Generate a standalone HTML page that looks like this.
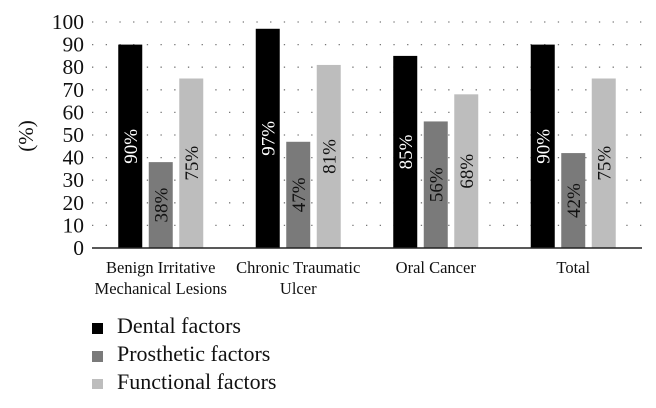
<!DOCTYPE html>
<html><head><meta charset="utf-8"><style>
body{margin:0;background:#fff;font-family:"Liberation Serif",serif;}
</style></head><body>
<svg width="656" height="403" xmlns="http://www.w3.org/2000/svg" font-family="Liberation Serif, serif">
<g id="grid"></g>
<g id="bars"></g>
<g id="yticks"></g>
<g id="xlabels"></g>
<line x1="92" y1="248" x2="642" y2="248" stroke="#222" stroke-width="1.5"/>
<text transform="translate(33,136) rotate(-90)" text-anchor="middle" font-size="21" fill="#111">(%)</text>
<g id="legend"></g>
<rect x="0" y="389" width="656" height="14" fill="#fff"/>
<script>
const categories=[["Benign Irritative","Mechanical Lesions"],["Chronic Traumatic","Ulcer"],["Oral Cancer"],["Total"]];
const seriesNames=["Dental factors","Prosthetic factors","Functional factors"];
const dental=[90,97,85,90];
const prosthetic=[38,47,56,42];
const functional=[75,81,68,75];
const yTicks=[0,10,20,30,40,50,60,70,80,90,100];
const series=[dental,prosthetic,functional];
const colors=["#000","#7a7a7a","#bdbdbd"];
const textColors=["#fff","#111","#111"];
const NS="http://www.w3.org/2000/svg";
const x0=92,x1=642,yBase=248,yTop=22;
const y=v=>yBase-(v/100)*(yBase-yTop);
const bandW=(x1-x0)/categories.length;
const barW=24,barStep=30.5;
function mk(tag,attrs,parent){const e=document.createElementNS(NS,tag);for(const k in attrs)e.setAttribute(k,attrs[k]);parent.appendChild(e);return e;}
const grid=document.getElementById('grid'),bars=document.getElementById('bars'),yt=document.getElementById('yticks'),xl=document.getElementById('xlabels'),lg=document.getElementById('legend');
yTicks.forEach(t=>{
 if(t>0){const l=mk('line',{x1:x0,x2:x1,y1:y(t),y2:y(t),stroke:'#777','stroke-width':1.3,'stroke-dasharray':'1.3 12.4'},grid);
 
 }
 const tx=mk('text',{x:84,y:y(t)+7,'text-anchor':'end','font-size':21.5,fill:'#111'},yt);tx.textContent=t;
 
 
});
categories.forEach((c,i)=>{
 const cx=x0+bandW*(i+0.5);
 series.forEach((s,j)=>{
  const bx=cx-barW/2+(j-1)*barStep;
  const r=mk('rect',{x:bx,y:y(s[i]),width:barW,height:yBase-y(s[i]),fill:colors[j]},bars);
  
  
  const ly=(y(s[i])+yBase)/2;
  const t=mk('text',{transform:`translate(${bx+barW/2+6.5},${ly}) rotate(-90)`,'text-anchor':'middle','font-size':19,fill:textColors[j]},bars);
  t.textContent=s[i]+'%';
  
  
 });
 c.forEach((line,k)=>{
  const t=mk('text',{x:cx,y:273+k*21,'text-anchor':'middle','font-size':16.5,fill:'#111'},xl);t.textContent=line;
  
  
 });
});
seriesNames.forEach((n,j)=>{
 const yy=333+j*28;
 const r=mk('rect',{x:92,y:yy-10,width:11,height:11,fill:colors[j]},lg);
 
 
 const t=mk('text',{x:117,y:yy,'font-size':22,fill:'#111'},lg);t.textContent=n;
 
 
});
</script>
</svg>
</body></html>
